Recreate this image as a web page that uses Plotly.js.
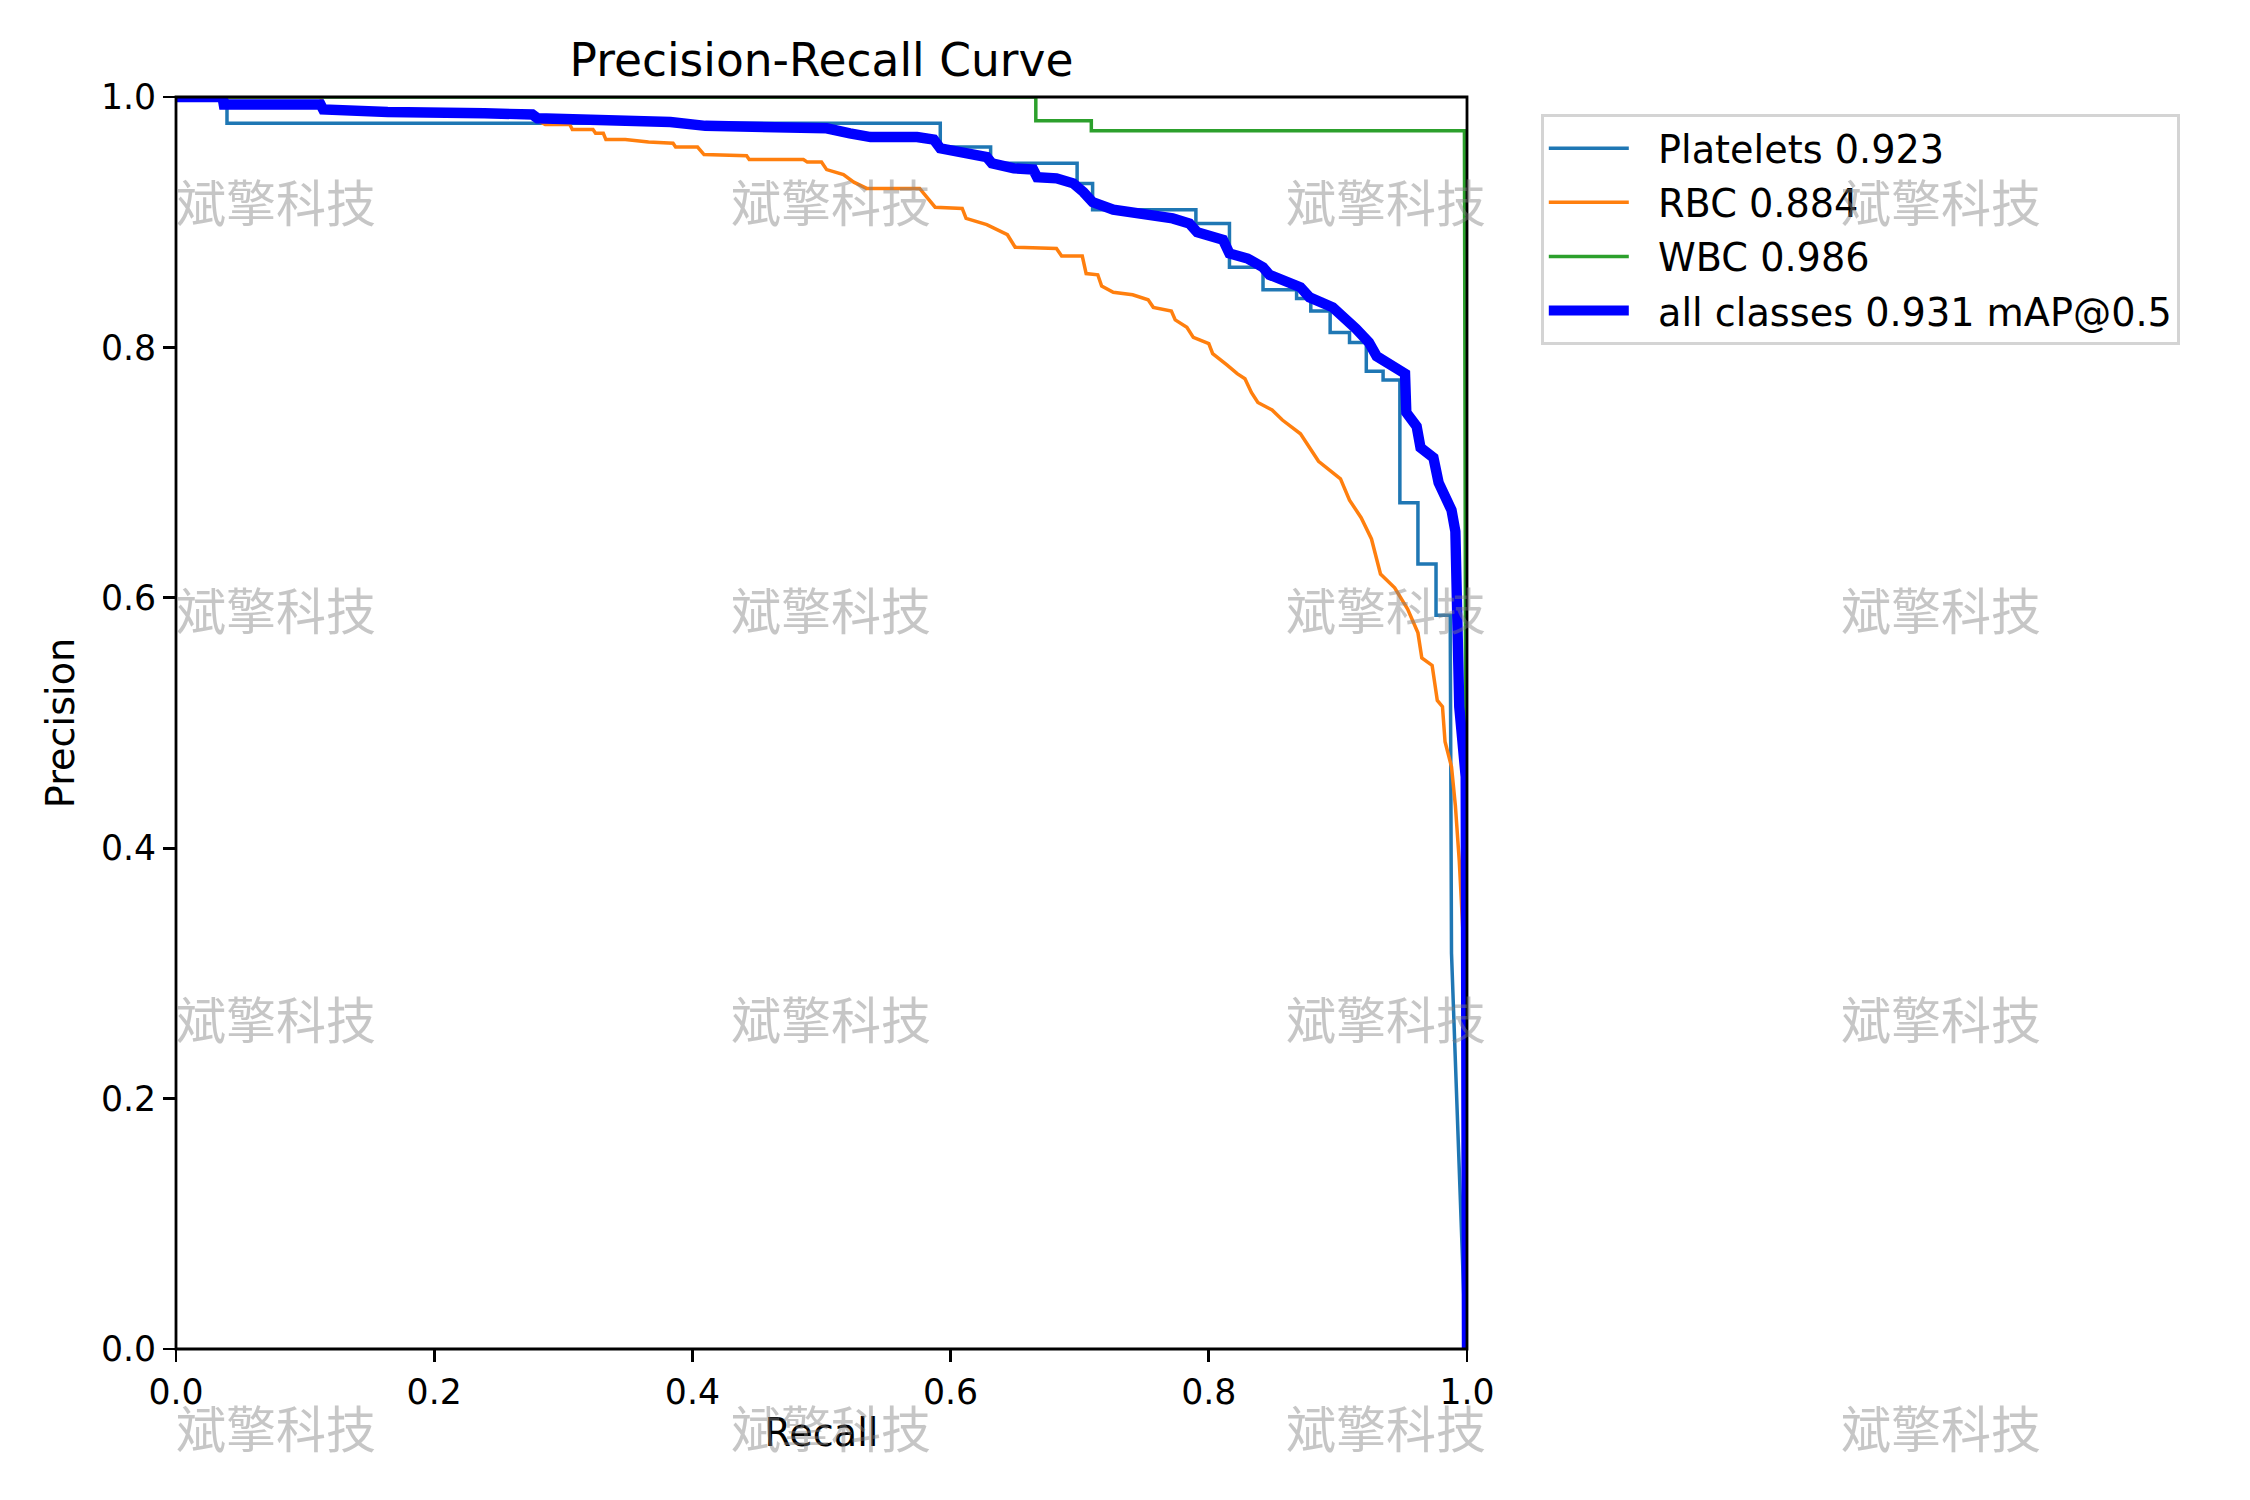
<!DOCTYPE html>
<html>
<head>
<meta charset="utf-8">
<script src="https://cdn.plot.ly/plotly-3.0.1.min.js"></script>
<style>
  html, body { margin: 0; padding: 0; background: #fff; }
  #chart { width: 2250px; height: 1500px; }
</style>
</head>
<body>
<div id="chart"></div>
<script>
// values (recall, precision)
var platRecall = [0, 0.0395, 0.0395, 0.592, 0.592, 0.631, 0.631, 0.698, 0.698, 0.710, 0.710, 0.790, 0.790,
  0.816, 0.816, 0.842, 0.842, 0.868, 0.868, 0.879, 0.879, 0.894, 0.894, 0.909, 0.909, 0.922, 0.922,
  0.935, 0.935, 0.948, 0.948, 0.962, 0.962, 0.976, 0.976, 0.987, 0.988, 0.999];
var platPrecision = [1, 1, 0.979, 0.979, 0.960, 0.960, 0.947, 0.947, 0.931, 0.931, 0.910, 0.910, 0.899,
  0.899, 0.864, 0.864, 0.846, 0.846, 0.839, 0.839, 0.829, 0.829, 0.812, 0.812, 0.804, 0.804, 0.781,
  0.781, 0.774, 0.774, 0.676, 0.676, 0.627, 0.627, 0.586, 0.586, 0.316, 0];

var rbcRecall = [0, 0.112, 0.115, 0.2, 0.276, 0.279, 0.286, 0.305, 0.307, 0.323, 0.325, 0.331, 0.333,
  0.348, 0.366, 0.385, 0.387, 0.404, 0.409, 0.442, 0.444, 0.486, 0.489, 0.500, 0.504, 0.517, 0.525,
  0.535, 0.576, 0.588, 0.609, 0.612, 0.628, 0.644, 0.650, 0.682, 0.686, 0.702, 0.705, 0.714, 0.717,
  0.726, 0.741, 0.753, 0.757, 0.771, 0.774, 0.783, 0.788, 0.800, 0.803, 0.814, 0.822, 0.828, 0.833,
  0.838, 0.849, 0.857, 0.871, 0.885, 0.902, 0.909, 0.918, 0.926, 0.933, 0.944, 0.954, 0.962, 0.965,
  0.973, 0.977, 0.981, 0.983, 0.988, 0.991, 0.994, 0.998, 0.999];
var rbcPrecision = [1, 1, 0.990, 0.988, 0.986, 0.982, 0.978, 0.978, 0.974, 0.974, 0.971, 0.971, 0.966,
  0.966, 0.964, 0.963, 0.960, 0.960, 0.954, 0.953, 0.950, 0.950, 0.948, 0.948, 0.942, 0.938, 0.932,
  0.927, 0.927, 0.912, 0.911, 0.903, 0.898, 0.890, 0.880, 0.879, 0.873, 0.873, 0.859, 0.858, 0.849,
  0.844, 0.842, 0.838, 0.832, 0.829, 0.822, 0.816, 0.808, 0.803, 0.795, 0.786, 0.779, 0.775, 0.764,
  0.756, 0.750, 0.742, 0.731, 0.709, 0.695, 0.678, 0.664, 0.647, 0.619, 0.608, 0.591, 0.572, 0.552,
  0.546, 0.518, 0.513, 0.485, 0.465, 0.434, 0.390, 0.311, 0];

var wbcRecall = [0, 0.666, 0.666, 0.709, 0.709, 0.998, 0.999, 1.0];
var wbcPrecision = [1, 1, 0.981, 0.981, 0.973, 0.973, 0.470, 0];

var allRecall = [0, 0.036, 0.037, 0.112, 0.114, 0.162, 0.164, 0.239, 0.276, 0.280, 0.335, 0.383, 0.410,
  0.442, 0.483, 0.504, 0.522, 0.538, 0.574, 0.587, 0.592, 0.607, 0.628, 0.632, 0.649, 0.664, 0.667,
  0.682, 0.695, 0.703, 0.710, 0.726, 0.754, 0.772, 0.785, 0.791, 0.811, 0.816, 0.830, 0.842, 0.847,
  0.865, 0.871, 0.878, 0.896, 0.914, 0.924, 0.930, 0.943, 0.952, 0.953, 0.961, 0.964, 0.974, 0.978,
  0.984, 0.988, 0.991, 0.992, 0.994, 0.999, 1.0];
var allPrecision = [1, 1, 0.994, 0.994, 0.990, 0.990, 0.988, 0.987, 0.986, 0.983, 0.982, 0.980, 0.977,
  0.977, 0.977, 0.975, 0.971, 0.968, 0.968, 0.966, 0.959, 0.956, 0.952, 0.947, 0.943, 0.942, 0.936,
  0.935, 0.931, 0.924, 0.916, 0.910, 0.906, 0.903, 0.899, 0.892, 0.886, 0.875, 0.871, 0.864, 0.858,
  0.851, 0.848, 0.840, 0.832, 0.815, 0.804, 0.793, 0.784, 0.779, 0.748, 0.737, 0.720, 0.712, 0.692,
  0.681, 0.670, 0.653, 0.557, 0.513, 0.457, 0];

var seriesNames = ['Platelets 0.923', 'RBC 0.884', 'WBC 0.986', 'all classes 0.931 mAP@0.5'];
var tickVals = [0, 0.2, 0.4, 0.6, 0.8, 1.0];
var tickText = ['0.0', '0.2', '0.4', '0.6', '0.8', '1.0'];
var watermark = '斌擎科技';

var font = 'DejaVu Sans, Liberation Sans, sans-serif';
var gap = '\u00A0\u00A0'; // room between legend handle and label

function line(x, y, name, color, width) {
  return {
    x: x, y: y, name: gap + name, type: 'scatter', mode: 'lines',
    legendgroup: name,
    line: { color: color, width: width }
  };
}

var data = [
  line(platRecall, platPrecision, seriesNames[0], '#1f77b4', 3.5),
  line(rbcRecall, rbcPrecision, seriesNames[1], '#ff7f0e', 3.5),
  line(wbcRecall, wbcPrecision, seriesNames[2], '#2ca02c', 3.5),
  line(allRecall, allPrecision, seriesNames[3], '#0000ff', 10.4)
];

// plot area in pixels: x 176..1467, y 97..1349
var L = 176, R = 1467, T = 97, B = 1349;
var wmCols = [276, 831, 1386, 1941];
var wmRows = [200, 608, 1017, 1426];
var annotations = [];
wmRows.forEach(function (py) {
  wmCols.forEach(function (px) {
    annotations.push({
      xref: 'paper', yref: 'paper',
      x: (px - L) / (R - L), y: (B - py) / (B - T),
      xanchor: 'center', yanchor: 'middle',
      text: watermark, showarrow: false,
      font: { family: 'Noto Sans CJK SC', size: 50, color: 'rgba(128,128,128,0.45)' }
    });
  });
});

var axisCommon = {
  range: [0, 1],
  tickvals: tickVals,
  ticktext: tickText,
  ticks: 'outside',
  ticklen: 12,
  tickwidth: 2.8,
  tickcolor: '#000',
  showline: false,
  showgrid: false,
  zeroline: false,
  fixedrange: true,
  tickfont: { family: font, size: 34.7, color: '#000' }
};

var layout = {
  width: 2250,
  height: 1500,
  margin: { l: L, r: 2250 - R, t: T, b: 1500 - B },
  paper_bgcolor: '#fff',
  plot_bgcolor: '#fff',
  font: { family: font, color: '#000' },
  title: {
    text: 'Precision-Recall Curve',
    font: { family: font, size: 45.5, color: '#000' },
    xref: 'paper', x: 0.5, xanchor: 'center',
    yref: 'container', y: 1 - 60 / 1500, yanchor: 'middle'
  },
  xaxis: Object.assign({}, axisCommon, {
    title: { text: 'Recall', font: { family: font, size: 38.2, color: '#000' }, standoff: 8 }
  }),
  yaxis: Object.assign({}, axisCommon, {
    title: { text: 'Precision', font: { family: font, size: 38.2, color: '#000' }, standoff: 14 }
  }),
  // frame drawn centred on the plot edge, like matplotlib spines
  shapes: [{
    type: 'rect', xref: 'paper', yref: 'paper', x0: 0, x1: 1, y0: 0, y1: 1,
    line: { color: '#000', width: 2.8 }, fillcolor: 'rgba(0,0,0,0)', layer: 'above'
  }],
  showlegend: true,
  legend: {
    x: (1541 - L) / (R - L), y: (B - 114) / (B - T),
    xanchor: 'left', yanchor: 'top',
    bgcolor: 'rgba(255,255,255,0.8)',
    bordercolor: '#d4d4d4',
    borderwidth: 2.8,
    traceorder: 'grouped',
    tracegroupgap: 1.5,
    itemwidth: 80,
    font: { family: font, size: 38.2, color: '#000' }
  },
  annotations: annotations
};

Plotly.newPlot('chart', data, layout, { displayModeBar: false, staticPlot: true });
</script>
</body>
</html>
